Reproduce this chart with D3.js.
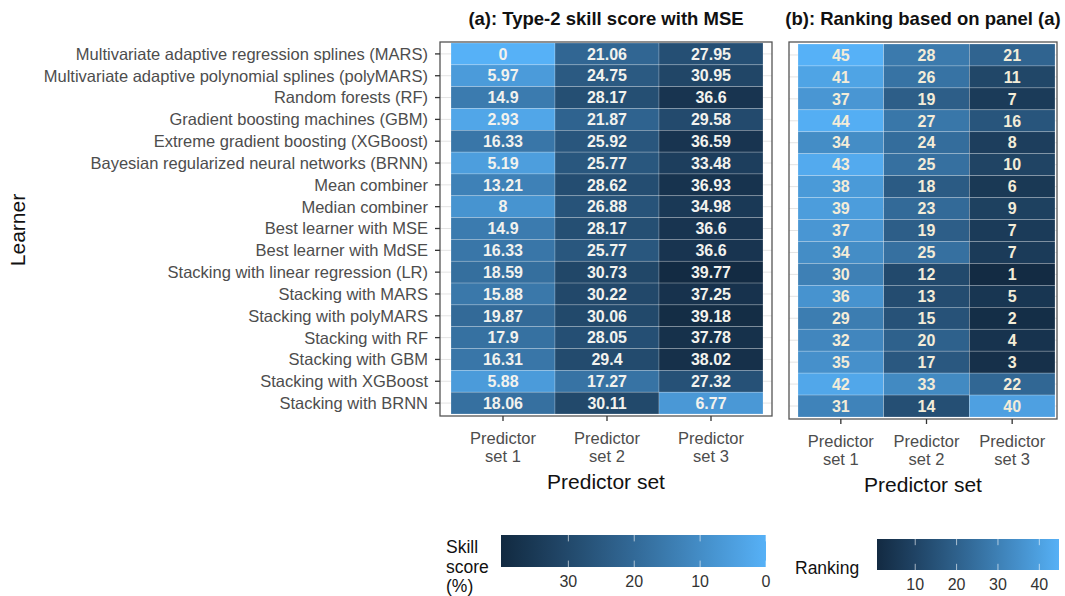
<!DOCTYPE html>
<html>
<head>
<meta charset="utf-8">
<script src="https://cdn.jsdelivr.net/npm/d3@7"></script>
<style>
  body { margin: 0; background: #fff; }
  svg { font-family: "Liberation Sans", Arial, sans-serif; }
</style>
</head>
<body>
<div id="chart"></div>
<script>
"use strict";

// Learners, top to bottom
var learners = [
  "Multivariate adaptive regression splines (MARS)",
  "Multivariate adaptive polynomial splines (polyMARS)",
  "Random forests (RF)",
  "Gradient boosting machines (GBM)",
  "Extreme gradient boosting (XGBoost)",
  "Bayesian regularized neural networks (BRNN)",
  "Mean combiner",
  "Median combiner",
  "Best learner with MSE",
  "Best learner with MdSE",
  "Stacking with linear regression (LR)",
  "Stacking with MARS",
  "Stacking with polyMARS",
  "Stacking with RF",
  "Stacking with GBM",
  "Stacking with XGBoost",
  "Stacking with BRNN"
];

var predictorSets = ["Predictor set 1", "Predictor set 2", "Predictor set 3"];

// Type-2 skill score (%) per predictor set
var skillSet1 = [0, 5.97, 14.9, 2.93, 16.33, 5.19, 13.21, 8, 14.9, 16.33, 18.59, 15.88, 19.87, 17.9, 16.31, 5.88, 18.06];
var skillSet2 = [21.06, 24.75, 28.17, 21.87, 25.92, 25.77, 28.62, 26.88, 28.17, 25.77, 30.73, 30.22, 30.06, 28.05, 29.4, 17.27, 30.11];
var skillSet3 = [27.95, 30.95, 36.6, 29.58, 36.59, 33.48, 36.93, 34.98, 36.6, 36.6, 39.77, 37.25, 39.18, 37.78, 38.02, 27.32, 6.77];

// Ranking per predictor set
var rankSet1 = [45, 41, 37, 44, 34, 43, 38, 39, 37, 34, 30, 36, 29, 32, 35, 42, 31];
var rankSet2 = [28, 26, 19, 27, 24, 25, 18, 23, 19, 25, 12, 13, 15, 20, 17, 33, 14];
var rankSet3 = [21, 11, 7, 16, 8, 10, 6, 9, 7, 7, 1, 5, 2, 4, 3, 22, 40];

var skillTicks = [30, 20, 10, 0];
var rankTicks = [10, 20, 30, 40];

var lowColor = "#132B43";
var highColor = "#56B1F7";

var W = 1065, H = 596;
var svg = d3.select("#chart").append("svg")
  .attr("width", W)
  .attr("height", H);

var toCells = function (sets) {
  var cells = [];
  sets.forEach(function (vals, j) {
    vals.forEach(function (v, i) {
      cells.push({ learner: learners[i], set: predictorSets[j], value: v });
    });
  });
  return cells;
};

var skillCells = toCells([skillSet1, skillSet2, skillSet3]);
var rankCells = toCells([rankSet1, rankSet2, rankSet3]);

var skillMax = d3.max(skillCells, function (d) { return d.value; });
var skillColor = d3.scaleLinear().domain([skillMax, 0]).range([lowColor, highColor]).interpolate(d3.interpolateLab);
var rankExtent = d3.extent(rankCells, function (d) { return d.value; });
var rankColor = d3.scaleLinear().domain(rankExtent).range([lowColor, highColor]).interpolate(d3.interpolateLab);

var drawPanel = function (opts) {
  var box = opts.box;
  var g = svg.append("g");

  var x = d3.scaleBand().domain(predictorSets).range([opts.tiles[0], opts.tiles[1]]);
  var y = d3.scaleBand().domain(learners).range([opts.tiles[2], opts.tiles[3]]);

  // panel background grid
  g.append("g").selectAll("line.h")
    .data(learners).enter().append("line")
      .attr("x1", box.x0).attr("x2", box.x1)
      .attr("y1", function (d) { return y(d) + y.bandwidth() / 2; })
      .attr("y2", function (d) { return y(d) + y.bandwidth() / 2; })
      .attr("stroke", "#e3e3e3").attr("stroke-width", 1);

  g.append("g").selectAll("rect")
    .data(opts.cells).enter().append("rect")
      .attr("x", function (d) { return x(d.set); })
      .attr("y", function (d) { return y(d.learner); })
      .attr("width", x.bandwidth())
      .attr("height", y.bandwidth())
      .attr("fill", function (d) { return opts.color(d.value); })
      .attr("stroke", "rgba(255,255,255,0.35)")
      .attr("stroke-width", 0.6);

  g.append("g").selectAll("text")
    .data(opts.cells).enter().append("text")
      .attr("x", function (d) { return x(d.set) + x.bandwidth() / 2; })
      .attr("y", function (d) { return y(d.learner) + y.bandwidth() / 2; })
      .attr("dy", "0.36em")
      .attr("text-anchor", "middle")
      .attr("font-size", 16)
      .attr("font-weight", "bold")
      .attr("fill", opts.textColor)
      .text(function (d) { return d.value; });

  // border
  g.append("rect")
    .attr("x", box.x0).attr("y", box.y0)
    .attr("width", box.x1 - box.x0).attr("height", box.y1 - box.y0)
    .attr("fill", "none").attr("stroke", "#555").attr("stroke-width", 1.3);

  // x axis ticks and labels
  var xa = g.append("g");
  predictorSets.forEach(function (s) {
    var cx = x(s) + x.bandwidth() / 2;
    xa.append("line")
      .attr("x1", cx).attr("x2", cx)
      .attr("y1", box.y1).attr("y2", box.y1 + 5)
      .attr("stroke", "#333").attr("stroke-width", 1.3);
    var t = xa.append("text")
      .attr("x", cx).attr("y", box.y1 + 28)
      .attr("text-anchor", "middle")
      .attr("font-size", 16.5)
      .attr("fill", "#4d4d4d");
    var parts = s.split(" set ");
    t.append("tspan").attr("x", cx).text(parts[0]);
    t.append("tspan").attr("x", cx).attr("dy", 18).text("set " + parts[1]);
  });

  g.append("text")
    .attr("x", (box.x0 + box.x1) / 2).attr("y", box.y1 + 73)
    .attr("text-anchor", "middle")
    .attr("font-size", 21)
    .attr("fill", "#111")
    .text("Predictor set");

  g.append("text")
    .attr("x", (box.x0 + box.x1) / 2).attr("y", 25)
    .attr("text-anchor", "middle")
    .attr("font-size", 18.5)
    .attr("font-weight", "bold")
    .attr("fill", "#111")
    .text(opts.title);

  if (opts.yAxis) {
    var ya = g.append("g");
    learners.forEach(function (l) {
      var cy = y(l) + y.bandwidth() / 2;
      ya.append("line")
        .attr("x1", box.x0 - 5).attr("x2", box.x0)
        .attr("y1", cy).attr("y2", cy)
        .attr("stroke", "#333").attr("stroke-width", 1.3);
      ya.append("text")
        .attr("x", box.x0 - 12).attr("y", cy)
        .attr("dy", "0.36em")
        .attr("text-anchor", "end")
        .attr("font-size", 16.5)
        .attr("fill", "#4d4d4d")
        .text(l);
    });
  }
};

drawPanel({
  box: { x0: 440, x1: 772, y0: 42, y1: 416 },
  tiles: [451, 763, 43, 414],
  cells: skillCells,
  color: skillColor,
  textColor: "#f2f2ee",
  title: "(a): Type-2 skill score with MSE",
  yAxis: true
});

drawPanel({
  box: { x0: 789, x1: 1057, y0: 42, y1: 419 },
  tiles: [798, 1055, 44, 417],
  cells: rankCells,
  color: rankColor,
  textColor: "#f3ecd8",
  title: "(b): Ranking based on panel (a)",
  yAxis: false
});

svg.append("text")
  .attr("transform", "translate(25,230) rotate(-90)")
  .attr("text-anchor", "middle")
  .attr("font-size", 21)
  .attr("fill", "#111")
  .text("Learner");

// Colour bar legends
var drawLegend = function (opts) {
  var id = opts.id;
  var grad = svg.append("defs").append("linearGradient").attr("id", id)
    .attr("x1", "0%").attr("x2", "100%");
  d3.range(0, 1.0001, 0.1).forEach(function (t) {
    grad.append("stop")
      .attr("offset", (t * 100) + "%")
      .attr("stop-color", opts.color(opts.scale.invert(opts.x0 + t * (opts.x1 - opts.x0))));
  });
  var g = svg.append("g");
  g.append("rect")
    .attr("x", opts.x0).attr("y", opts.y0)
    .attr("width", opts.x1 - opts.x0).attr("height", opts.y1 - opts.y0)
    .attr("fill", "url(#" + id + ")");
  opts.ticks.forEach(function (v) {
    var tx = opts.scale(v);
    var h = opts.y1 - opts.y0;
    g.append("line").attr("x1", tx).attr("x2", tx)
      .attr("y1", opts.y0).attr("y2", opts.y0 + h * 0.2)
      .attr("stroke", "#fff").attr("stroke-opacity", 0.6);
    g.append("line").attr("x1", tx).attr("x2", tx)
      .attr("y1", opts.y1 - h * 0.2).attr("y2", opts.y1)
      .attr("stroke", "#fff").attr("stroke-opacity", 0.6);
    g.append("text")
      .attr("x", tx).attr("y", opts.y1 + 20)
      .attr("text-anchor", "middle")
      .attr("font-size", 16)
      .attr("fill", "#333")
      .text(v);
  });
  var title = g.append("text")
    .attr("x", opts.titleX).attr("y", opts.titleY)
    .attr("font-size", 17.5)
    .attr("fill", "#111");
  opts.title.forEach(function (line, i) {
    title.append("tspan").attr("x", opts.titleX).attr("dy", i === 0 ? 0 : 19.5).text(line);
  });
};

drawLegend({
  id: "skillGrad",
  x0: 501, x1: 766, y0: 535, y1: 567,
  scale: d3.scaleLinear().domain([skillMax, 0]).range([504, 766]),
  color: skillColor,
  ticks: skillTicks,
  title: ["Skill", "score", "(%)"],
  titleX: 446, titleY: 553
});

drawLegend({
  id: "rankGrad",
  x0: 877, x1: 1059, y0: 539, y1: 570,
  scale: d3.scaleLinear().domain(rankExtent).range([878, 1060]),
  color: rankColor,
  ticks: rankTicks,
  title: ["Ranking"],
  titleX: 795, titleY: 574
});
</script>
</body>
</html>
